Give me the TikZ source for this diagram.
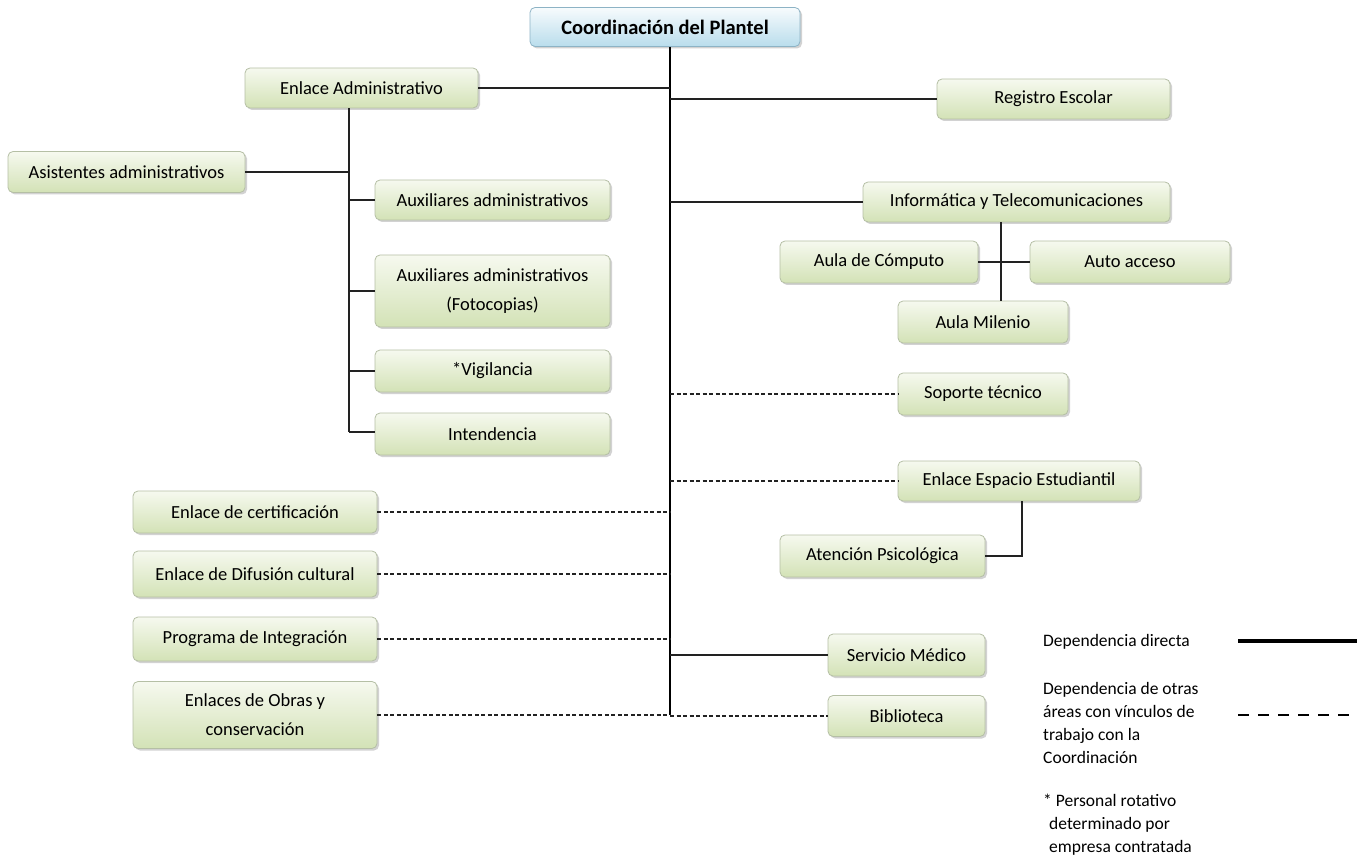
\documentclass[tikz,border=0pt]{standalone}
\usepackage{fontspec}
\setmainfont{Carlito}
\usetikzlibrary{shadows}
\definecolor{boxtop}{HTML}{F6F9EF}
\definecolor{boxbot}{HTML}{D3E2B6}
\definecolor{boxline}{HTML}{B5BFA5}
\definecolor{cotop}{HTML}{F7FBFD}
\definecolor{cobot}{HTML}{B9DDEC}
\definecolor{coline}{HTML}{8DB3C5}
\definecolor{ln}{HTML}{222222}
\begin{document}
\begin{tikzpicture}[x=1pt,y=-1pt,
  font=\fontsize{18.5}{24}\selectfont,
  box/.style={draw=boxline, line width=0.8pt, rounded corners=5pt,
    top color=boxtop, bottom color=boxbot, align=center,
    drop shadow={shadow xshift=2pt, shadow yshift=-2pt, fill=black!35, opacity=0.5},
    inner sep=2pt},
  tallbox/.style={box, font=\fontsize{18.5}{29}\selectfont},
  cobox/.style={draw=coline, line width=0.8pt, rounded corners=5pt,
    top color=cotop, bottom color=cobot, align=center,
    drop shadow={shadow xshift=2pt, shadow yshift=-2pt, fill=black!35, opacity=0.5},
    font=\fontsize{20.5}{24}\selectfont\bfseries},
  solid link/.style={draw=ln, line width=1.3pt},
  dash link/.style={draw=ln, line width=1.3pt, dash pattern=on 4pt off 2.5pt},
  spine/.style={draw=black, line width=2.8pt},
  legtext/.style={anchor=north west, align=left, font=\fontsize{17.5}{23}\selectfont, inner sep=0pt}
]
\useasboundingbox (0,0) rectangle (1365,858);

\node[cobox, minimum width=270pt, minimum height=39pt] (co) at (665,27) {Coordinación del Plantel};

\node[box, minimum width=233pt, minimum height=40pt] (ea) at (361.5,88) {Enlace Administrativo};
\node[box, minimum width=233pt, minimum height=40pt] (re) at (1053.5,99) {Registro Escolar};
\node[box, minimum width=237pt, minimum height=41pt] (asa) at (126.5,172) {Asistentes administrativos};
\node[box, minimum width=235pt, minimum height=40pt] (aua) at (492.5,200) {Auxiliares administrativos};
\node[tallbox, minimum width=235pt, minimum height=72pt] (auf) at (492.5,291) {Auxiliares administrativos\\(Fotocopias)};
\node[box, minimum width=235pt, minimum height=42pt] (vig) at (492.5,371) {*Vigilancia};
\node[box, minimum width=235pt, minimum height=42pt] (int) at (492.5,434) {Intendencia};

\node[box, minimum width=307pt, minimum height=40pt] (it) at (1016.5,202) {Informática y Telecomunicaciones};
\node[box, minimum width=198pt, minimum height=42pt] (ac) at (879,262) {Aula de Cómputo};
\node[box, minimum width=200pt, minimum height=42pt] (aa) at (1130,262) {Auto acceso};
\node[box, minimum width=170pt, minimum height=42pt] (am) at (983,322) {Aula Milenio};
\node[box, minimum width=170pt, minimum height=42pt] (st) at (983,394) {Soporte técnico};
\node[box, minimum width=242pt, minimum height=40pt] (ee) at (1019,481) {Enlace Espacio Estudiantil};
\node[box, minimum width=205pt, minimum height=42pt] (ap) at (882.5,556) {Atención Psicológica};

\node[box, minimum width=244pt, minimum height=42pt] (ec) at (255,512) {Enlace de certificación};
\node[box, minimum width=244pt, minimum height=46pt] (ed) at (255,574) {Enlace de Difusión cultural};
\node[box, minimum width=244pt, minimum height=44pt] (pi) at (255,639) {Programa de Integración};
\node[tallbox, minimum width=244pt, minimum height=67pt] (eo) at (255,715) {Enlaces de Obras y\\conservación};
\node[box, minimum width=157pt, minimum height=42pt] (sm) at (906.5,655) {Servicio Médico};
\node[box, minimum width=157pt, minimum height=41pt] (bi) at (906.5,716) {Biblioteca};

% spine and branch points
\coordinate (sp) at (670,715);
\coordinate (eav) at (349,432);
\coordinate (itv) at (1001,262);
\coordinate (eev) at (1022,556);

\draw[spine] (co.south -| sp) -- (sp);

% Enlace administrativo branch
\draw[solid link] (ea.east) -- (ea.east -| sp);
\draw[solid link] (ea.south -| eav) -- (eav);
\draw[solid link] (asa.east) -- (asa.east -| eav);
\draw[solid link] (aua.west -| eav) -- (aua.west);
\draw[solid link] (auf.west -| eav) -- (auf.west);
\draw[solid link] (vig.west -| eav) -- (vig.west);
\draw[solid link] (eav) -- (int.west |- eav);

% right side
\draw[solid link] (sp |- re.west) -- (re.west);
\draw[solid link] (sp |- it.west) -- (it.west);
\draw[solid link] (it.south -| itv) -- (am.north -| itv);
\draw[solid link] (ac.east) -- (aa.west);
\draw[dash link] (sp |- st.west) -- (st.west);
\draw[dash link] (sp |- ee.west) -- (ee.west);
\draw[solid link] (ee.south -| eev) -- (eev) -- (ap.east);
\draw[solid link] (sp |- sm.west) -- (sm.west);
\draw[dash link] (sp |- bi.west) -- (bi.west);

% left dashed
\draw[dash link] (ec.east) -- (ec.east -| sp);
\draw[dash link] (ed.east) -- (ed.east -| sp);
\draw[dash link] (pi.east) -- (pi.east -| sp);
\draw[dash link] (eo.east) -- (eo.east -| sp);

% legend
\node[legtext] (l1) at (1043,634) {Dependencia directa};
\coordinate (l1a) at (1238,641);
\coordinate (l1b) at (1357,641);
\draw[black, line width=4pt] (l1a) -- (l1b);
\node[legtext] (l2) at (1043,682) {Dependencia de otras\\áreas con vínculos de\\trabajo con la\\Coordinación};
\coordinate (l2a) at (1238,715);
\coordinate (l2b) at (1352,715);
\draw[black, line width=2.5pt, dash pattern=on 11pt off 9pt] (l2a) -- (l2b);
\node[legtext] (l3) at (1043,794) {* Personal rotativo\\\hspace*{6pt}determinado por\\\hspace*{6pt}empresa contratada};
\end{tikzpicture}
\end{document}
